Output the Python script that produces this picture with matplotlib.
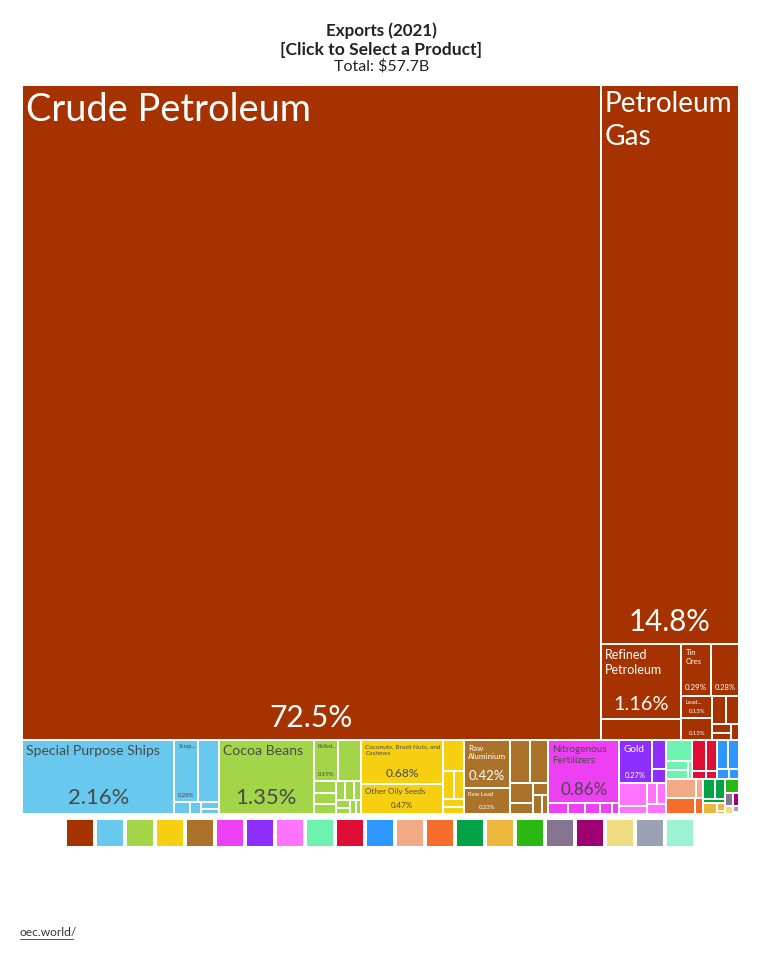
import matplotlib
matplotlib.use("Agg")
import matplotlib.pyplot as plt
from matplotlib.patches import Rectangle

# ------------------------------------------------------------------
# Export shares (% of total) by HS section and product, 2021
# ------------------------------------------------------------------
title_lines = ["Exports (2021)", "[Click to Select a Product]"]
total_text = "Total: $57.7B"
source_text = "oec.world/"

section_names = [
    "Mineral Products", "Transportation", "Foodstuffs", "Vegetable Products",
    "Metals", "Chemical Products", "Precious Metals", "Plastics and Rubbers",
    "Animal Hides", "Wood Products", "Machines", "Stone And Glass",
    "Animal and Vegetable Bi-Products", "Textiles", "Animal Products",
    "Footwear and Headwear", "Arts and Antiques", "Instruments",
    "Paper Goods", "Miscellaneous", "Weapons",
]
section_colors = [
    "#A63200", "#69C8ED", "#A2D548", "#F6CF10", "#AA7329", "#ED40F2",
    "#8D2EFF", "#FF73FF", "#6DF2B0", "#DF0E35", "#2E97FF", "#F2AA86",
    "#F46D2A", "#02A347", "#EDB73E", "#2CB812", "#85738F", "#9E0071",
    "#EFDC81", "#9CA1B3", "#9DF2D1",
]

mineral_products = ["Crude Petroleum", "Petroleum Gas", "Refined Petroleum",
                    "Petroleum Coke", "Tin Ores",
                    "Niobium, Tantalum, Vanadium and Zirconium Ore",
                    "Lead Ore", "Zinc Ore", "Iron Ore", "Sulphur",
                    "Coal Briquettes", "Salt", "Gypsum"]
mineral_values = [72.5, 14.8, 1.16, 0.32, 0.29, 0.28, 0.13, 0.13,
                  0.075, 0.07, 0.033, 0.025, 0.023]

transport_products = ["Special Purpose Ships", "Scrap Vessels",
                      "Passenger and Cargo Ships", "Cars", "Aircraft Parts",
                      "Delivery Trucks", "Vehicle Parts"]
transport_values = [2.16, 0.28, 0.25, 0.035, 0.025, 0.02, 0.018]

food_products = ["Cocoa Beans", "Rolled Tobacco", "Cocoa Paste", "Cocoa Butter",
                 "Cocoa Shells", "Animal Food", "Non-fermented Beverages",
                 "Sauces", "Flavored Water", "Baked Goods", "Malt Extract",
                 "Sugar Confectionery", "Chocolate"]
food_values = [1.35, 0.19, 0.187, 0.05, 0.045, 0.04, 0.035, 0.03,
               0.027, 0.022, 0.018, 0.015, 0.015]

vegetable_products = ["Coconuts, Brazil Nuts, and Cashews", "Other Oily Seeds",
                      "Ginger", "Soybeans", "Dried Legumes", "Other Nuts",
                      "Coffee"]
vegetable_values = [0.68, 0.47, 0.13, 0.06, 0.055, 0.035, 0.028]

metal_products = ["Raw Aluminium", "Raw Lead", "Scrap Iron", "Scrap Copper",
                  "Aluminium Bars", "Scrap Aluminium", "Raw Zinc",
                  "Iron Bars", "Copper Wire"]
metal_values = [0.42, 0.23, 0.16, 0.15, 0.09, 0.05, 0.035, 0.03, 0.024]

chemical_products = ["Nitrogenous Fertilizers", "Packaged Medicaments",
                     "Soap", "Acyclic Alcohols", "Beauty Products", "Ammonia"]
chemical_values = [0.86, 0.04, 0.035, 0.03, 0.025, 0.015]

precious_products = ["Gold", "Silver", "Jewellery"]
precious_values = [0.27, 0.08, 0.04]

plastic_products = ["Natural Rubber", "Rubber Tires", "Ethylene Polymers",
                    "Plastic Lids", "Raw Plastic Sheeting"]
plastic_values = [0.12, 0.045, 0.04, 0.036, 0.035]

hide_products = ["Tanned Goat Hides", "Raw Hides", "Tanned Sheep Hides", "Leather"]
hide_values = [0.105, 0.04, 0.035, 0.015]

wood_products = ["Sawn Wood", "Rough Wood", "Wood Charcoal", "Veneer Sheets"]
wood_values = [0.08, 0.065, 0.02, 0.015]

machine_products = ["Gas Turbines", "Valves", "Pumps", "Computers"]
machine_values = [0.065, 0.06, 0.022, 0.018]

stone_products = ["Stone Processing Machines", "Glass Bottles"]
stone_values = [0.11, 0.025]

byproduct_products = ["Pure Olive Oil", "Palm Oil"]
byproduct_values = [0.09, 0.025]

textile_products = ["Raw Cotton", "Sacks", "Cotton Fabric"]
textile_values = [0.045, 0.04, 0.02]

animal_products = ["Crustaceans", "Frozen Fish", "Fish Fillets"]
animal_values = [0.028, 0.012, 0.005]

footwear_products = ["Leather Footwear"]
footwear_values = [0.038]
arts_products = ["Paintings"]
arts_values = [0.019]
instrument_products = ["Orthopedic Appliances"]
instrument_values = [0.015]
paper_products = ["Paper Containers"]
paper_values = [0.013]
misc_products = ["Furniture"]
misc_values = [0.007]
weapon_products = ["Ammunition"]
weapon_values = [0.002]

section_products = [
    mineral_products, transport_products, food_products, vegetable_products,
    metal_products, chemical_products, precious_products, plastic_products,
    hide_products, wood_products, machine_products, stone_products,
    byproduct_products, textile_products, animal_products, footwear_products,
    arts_products, instrument_products, paper_products, misc_products,
    weapon_products,
]
section_values = [
    mineral_values, transport_values, food_values, vegetable_values,
    metal_values, chemical_values, precious_values, plastic_values,
    hide_values, wood_values, machine_values, stone_values,
    byproduct_values, textile_values, animal_values, footwear_values,
    arts_values, instrument_values, paper_values, misc_values,
    weapon_values,
]

# ------------------------------------------------------------------
# Label styling: shown text, name size (px), share size (px)
# ------------------------------------------------------------------
label_style = {
    "Crude Petroleum": ("Crude Petroleum", 38, 30),
    "Petroleum Gas": ("Petroleum\nGas", 28, 29.5),
    "Refined Petroleum": ("Refined\nPetroleum", 12.5, 20),
    "Tin Ores": ("Tin\nOres", 7.5, 8),
    "Niobium, Tantalum, Vanadium and Zirconium Ore": ("", 7, 7.5),
    "Lead Ore": ("Lead...", 6, 6),
    "Zinc Ore": ("", 6, 6),
    "Special Purpose Ships": ("Special Purpose Ships", 14, 22),
    "Scrap Vessels": ("Scrap...", 5.5, 6),
    "Cocoa Beans": ("Cocoa Beans", 14, 22),
    "Rolled Tobacco": ("Rolled...", 5.5, 6),
    "Coconuts, Brazil Nuts, and Cashews": ("Coconuts, Brazil Nuts, and\nCashews", 6.5, 12),
    "Other Oily Seeds": ("Other Oily Seeds", 8, 8),
    "Raw Aluminium": ("Raw\nAluminium", 8, 13),
    "Raw Lead": ("Raw Lead", 6, 6),
    "Nitrogenous Fertilizers": ("Nitrogenous\nFertilizers", 10, 17),
    "Gold": ("Gold", 10, 7.5),
}
dark_sections = {"Transportation", "Foodstuffs", "Vegetable Products",
                 "Chemical Products"}

FONT = "Lato"
PX = 72.0 / 100.0  # points per pixel at dpi=100
PHI = (1 + 5 ** 0.5) / 2


def squarify(values, x0, y0, x1, y1, ratio=PHI):
    """d3-style squarified treemap; values must be sorted descending."""
    n = len(values)
    rects = [None] * n
    value = float(sum(values))
    i0 = i1 = 0
    while i0 < n:
        dx, dy = x1 - x0, y1 - y0
        sum_v = values[i1]
        i1 += 1
        min_v = max_v = sum_v
        alpha = max(dy / dx, dx / dy) / (value * ratio)
        beta = sum_v * sum_v * alpha
        min_ratio = max(max_v / beta, beta / min_v)
        while i1 < n:
            nv = values[i1]
            s = sum_v + nv
            mn, mx = min(min_v, nv), max(max_v, nv)
            beta = s * s * alpha
            new_ratio = max(mx / beta, beta / mn)
            if new_ratio > min_ratio:
                break
            sum_v, min_v, max_v, min_ratio = s, mn, mx, new_ratio
            i1 += 1
        row = range(i0, i1)
        if dx < dy:
            yb = y0 + dy * sum_v / value
            xx = x0
            for k in row:
                w = dx * values[k] / sum_v
                rects[k] = (xx, y0, xx + w, yb)
                xx += w
            y0 = yb
        else:
            xr = x0 + dx * sum_v / value
            yy = y0
            for k in row:
                h = dy * values[k] / sum_v
                rects[k] = (x0, yy, xr, yy + h)
                yy += h
            x0 = xr
        value -= sum_v
        i0 = i1
    return rects


def fmt_share(share):
    return f"{share:.1f}%" if share >= 10 else f"{share:.2f}%"


W, H = 763, 960
fig = plt.figure(figsize=(W / 100, H / 100), dpi=100)
ax = fig.add_axes([0, 0, 1, 1])
ax.set_xlim(0, W)
ax.set_ylim(H, 0)
ax.axis("off")

grand_total = sum(sum(v) for v in section_values)
section_totals = [sum(v) for v in section_values]
order = sorted(range(len(section_totals)), key=lambda i: -section_totals[i])
sec_rects = squarify([section_totals[i] for i in order], 22, 85, 739, 814)

for pos, si in enumerate(order):
    sx0, sy0, sx1, sy1 = sec_rects[pos]
    prods = section_products[si]
    vals = section_values[si]
    porder = sorted(range(len(vals)), key=lambda k: -vals[k])
    prects = squarify([vals[k] for k in porder], sx0, sy0, sx1, sy1)
    color = section_colors[si]
    txt_color = "#4a4a4a" if section_names[si] in dark_sections else "white"
    for pk, k in enumerate(porder):
        x0, y0, x1, y1 = prects[pk]
        ax.add_patch(Rectangle((x0, y0), x1 - x0, y1 - y0, facecolor=color,
                               edgecolor="white", linewidth=2 * PX))
        name = prods[k]
        if name not in label_style:
            continue
        shown, nfs, pfs = label_style[name]
        if shown:
            ax.text(x0 + 4, y0 + 4 + 0.08 * nfs, shown, ha="left", va="top",
                    fontsize=nfs * PX, family=FONT, color=txt_color,
                    linespacing=1.3)
        share = 100.0 * vals[k] / grand_total
        ax.text((x0 + x1) / 2, y1 - (0.33 * pfs + 3), fmt_share(share),
                ha="center", va="baseline", fontsize=pfs * PX, family=FONT,
                color=txt_color)

# Title block
ax.text(W / 2, 31, title_lines[0], ha="center", va="center", fontsize=17 * PX,
        family=FONT, fontweight="bold", color="#222222")
ax.text(W / 2, 50, title_lines[1], ha="center", va="center", fontsize=17.5 * PX,
        family=FONT, fontweight="bold", color="#222222")
ax.text(W / 2, 66, total_text, ha="center", va="center", fontsize=16 * PX,
        family=FONT, color="#222222")

# Colour legend, one square per section in order of size
for pos, si in enumerate(order):
    ax.add_patch(Rectangle((67 + 30 * pos, 820), 26, 26,
                           facecolor=section_colors[si], edgecolor="none"))

# Source link
ax.text(20, 933, source_text, ha="left", va="center", fontsize=12 * PX,
        family=FONT, color="#333333")
ax.plot([20, 73], [939, 939], color="#333333", linewidth=0.8 * PX)

fig.savefig("out.png", dpi=100, facecolor="white")
